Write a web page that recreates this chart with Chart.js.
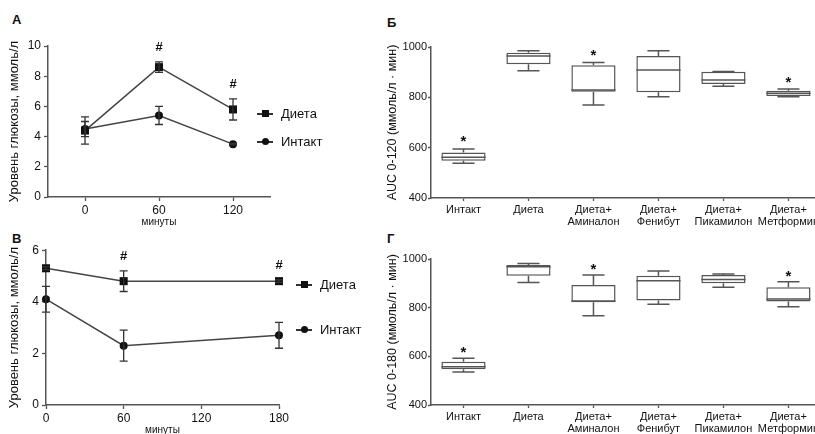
<!DOCTYPE html>
<html>
<head>
<meta charset="utf-8">
<script src="https://cdn.jsdelivr.net/npm/chart.js@4"></script>
<style>
  body { margin: 0; background: #fff; width: 815px; height: 434px; overflow: hidden; position: relative;
         font-family: "Liberation Sans", Arial, sans-serif; color: #111; }
  canvas { position: absolute; }
  .letter { position: absolute; font-weight: bold; font-size: 13px; line-height: 13px; }
  .leg { position: absolute; font-size: 13px; height: 16px; line-height: 16px; display: flex; align-items: center; white-space: nowrap; }
  .mk { display: inline-block; position: relative; width: 16px; height: 16px; margin-right: 8px; }
  .mk::before { content: ""; position: absolute; left: 0; right: 0; top: 7px; height: 1.5px; background: #333; }
  .mk::after { content: ""; position: absolute; left: 5px; top: 4px; width: 7px; height: 7px; background: #111; }
  .mk.circle::after { border-radius: 50%; }
</style>
</head>
<body>
<div class="letter" style="left:12px;top:13px">А</div>
<div class="letter" style="left:387px;top:16px">Б</div>
<div class="letter" style="left:12px;top:232px">В</div>
<div class="letter" style="left:387px;top:232px">Г</div>

<canvas id="cA" width="300" height="200" style="left:0;top:30px"></canvas>
<canvas id="cB" width="442" height="200" style="left:380px;top:30px"></canvas>
<canvas id="cV" width="300" height="194" style="left:0;top:240px"></canvas>
<canvas id="cG" width="442" height="194" style="left:380px;top:240px"></canvas>

<script>
// ---- data ----
const seriesNames = ['Диета', 'Интакт'];

// panel А: 0-120 min
const minutesA = [0, 60, 120];
const dietA = [4.4, 8.6, 5.8];
const dietAErr = [0.9, 0.35, 0.7];
const intactA = [4.5, 5.4, 3.5];
const intactAErr = [0.5, 0.6, 0.05];
const hashA = ['', '#', '#'];

// panel В: 0-180 min
const minutesV = [0, 60, 180];
const dietV = [5.3, 4.8, 4.8];
const dietVErr = [0.05, 0.4, 0.05];
const intactV = [4.1, 2.3, 2.7];
const intactVErr = [0.5, 0.6, 0.5];
const hashV = ['', '#', '#'];

// box plots
const groups = ['Интакт', 'Диета', ['Диета+', 'Аминалон'], ['Диета+', 'Фенибут'], ['Диета+', 'Пикамилон'], ['Диета+', 'Метформин']];

// Б: AUC 0-120
const minB = [538, 906, 770, 802, 844, 802];
const q1B = [548, 931, 822, 820, 853, 805];
const medB = [562, 964, 829, 909, 869, 816];
const q3B = [581, 977, 927, 964, 902, 826];
const maxB = [595, 985, 938, 985, 903, 833];
const starB = ['*', '', '*', '', '', '*'];

// Г: AUC 0-180
const minG = [536, 903, 767, 814, 884, 804];
const q1G = [547, 931, 822, 829, 900, 825];
const medG = [557, 968, 827, 911, 916, 836];
const q3G = [578, 975, 893, 931, 934, 884];
const maxG = [592, 982, 934, 951, 938, 907];
const starG = ['*', '', '*', '', '', '*'];

const FONT = '"Liberation Sans", Arial, sans-serif';
const INK = '#111';

// error bars + '#' marks for the line panels
const errorBars = {
  id: 'errorBars',
  afterDatasetsDraw(chart) {
    const { ctx, scales: { x, y } } = chart;
    ctx.save();
    ctx.strokeStyle = '#333';
    ctx.lineWidth = 1.3;
    chart.data.datasets.forEach((ds) => {
      ds.data.forEach((p, i) => {
        const e = ds.err[i];
        const px = x.getPixelForValue(p.x);
        const top = y.getPixelForValue(p.y + e);
        const bot = y.getPixelForValue(p.y - e);
        ctx.beginPath();
        ctx.moveTo(px, top); ctx.lineTo(px, bot);
        ctx.moveTo(px - 4, top); ctx.lineTo(px + 4, top);
        ctx.moveTo(px - 4, bot); ctx.lineTo(px + 4, bot);
        ctx.stroke();
        if (ds.marks && ds.marks[i]) {
          ctx.fillStyle = INK;
          ctx.font = 'bold 13px ' + FONT;
          ctx.textAlign = 'center';
          ctx.textBaseline = 'middle';
          ctx.fillText(ds.marks[i], px, top - 14);
        }
      });
    });
    ctx.restore();
  }
};

// whiskers, medians, stars for the box panels
const boxExtras = {
  id: 'boxExtras',
  afterDatasetsDraw(chart, args, opts) {
    const { ctx, scales: { y } } = chart;
    const bars = chart.getDatasetMeta(0).data;
    ctx.save();
    ctx.strokeStyle = '#555';
    ctx.lineWidth = 1.5;
    bars.forEach((bar, i) => {
      const px = bar.x;
      const hw = bar.width / 2;
      const cw = hw / 2;
      const yMin = y.getPixelForValue(opts.min[i]);
      const yMax = y.getPixelForValue(opts.max[i]);
      const yQ1 = y.getPixelForValue(opts.q1[i]);
      const yQ3 = y.getPixelForValue(opts.q3[i]);
      const yMed = y.getPixelForValue(opts.med[i]);
      ctx.beginPath();
      ctx.moveTo(px, yQ3); ctx.lineTo(px, yMax);
      ctx.moveTo(px - cw, yMax); ctx.lineTo(px + cw, yMax);
      ctx.moveTo(px, yQ1); ctx.lineTo(px, yMin);
      ctx.moveTo(px - cw, yMin); ctx.lineTo(px + cw, yMin);
      ctx.moveTo(px - hw, yMed); ctx.lineTo(px + hw, yMed);
      ctx.stroke();
      if (opts.star[i]) {
        ctx.fillStyle = '#111';
        ctx.font = 'bold 15px ' + FONT;
        ctx.textAlign = 'center';
        ctx.textBaseline = 'alphabetic';
        ctx.fillText(opts.star[i], px, yMax - opts.starGap + 8.5);
      }
    });
    ctx.restore();
  }
};

const axisBase = () => ({
  border: { color: '#555', width: 1.5 },
  grid: { drawOnChartArea: false, drawTicks: true, tickLength: 4, tickColor: '#555', tickWidth: 1.3, offset: false },
  ticks: { color: INK, font: { size: 12, family: FONT }, padding: 2, maxRotation: 0, autoSkip: false }
});

function lineDataset(label, xs, ys, errs, marks, style) {
  return {
    label: label,
    data: xs.map((v, i) => ({ x: v, y: ys[i] })),
    err: errs,
    marks: marks,
    borderColor: '#444',
    borderWidth: 1.5,
    pointStyle: style,
    pointRadius: style === 'rect' ? 5.7 : 4,
    pointBackgroundColor: '#111',
    pointBorderColor: '#111',
    pointBorderWidth: 0,
    tension: 0,
    clip: false
  };
}

function lineChart(id, xs, d, dErr, iv, iErr, marks, xMin, xMax, xTicks, yMax, pad, xH, titlePad) {
  const xAxis = axisBase();
  Object.assign(xAxis, {
    type: 'linear', min: xMin, max: xMax,
    afterBuildTicks: (s) => { s.ticks = xTicks.map((v) => ({ value: v })); },
    afterFit: (s) => { s.height = xH; },
    title: { display: true, text: 'минуты', color: INK, font: { size: 10, family: FONT }, padding: { top: 0, bottom: titlePad } }
  });
  const yAxis = axisBase();
  yAxis.ticks.padding = 3;
  Object.assign(yAxis, {
    min: 0, max: yMax,
    afterBuildTicks: (s) => { const t = []; for (let v = 0; v <= yMax; v += 2) t.push({ value: v }); s.ticks = t; },
    afterFit: (s) => { s.width = pad.yw; },
    title: { display: true, text: 'Уровень глюкозы, ммоль/л', color: INK, font: { size: 13, family: FONT }, padding: { top: 7, bottom: 0 } }
  });
  return new Chart(document.getElementById(id), {
    type: 'line',
    data: { datasets: [
      lineDataset(seriesNames[0], xs, d, dErr, marks, 'rect'),
      lineDataset(seriesNames[1], xs, iv, iErr, null, 'circle')
    ] },
    options: {
      responsive: false, animation: false,
      layout: { padding: { top: pad.top, right: pad.right, left: 0, bottom: 0 } },
      plugins: { legend: { display: false }, tooltip: { enabled: false } },
      scales: { x: xAxis, y: yAxis }
    },
    plugins: [errorBars]
  });
}

function boxChart(id, mins, q1, med, q3, maxs, stars, title, top, xH, starGap) {
  const xAxis = axisBase();
  xAxis.grid.tickLength = 3;
  xAxis.ticks.font = { size: 11, family: FONT, lineHeight: 1.1 };
  xAxis.ticks.padding = 3;
  xAxis.afterFit = (s) => { s.height = xH; };
  const yAxis = axisBase();
  yAxis.grid.tickLength = 3;
  yAxis.ticks.font = { size: 11, family: FONT };
  yAxis.ticks.padding = 1;
  yAxis.ticks.stepSize = 200;
  yAxis.ticks.callback = (v) => String(v);
  Object.assign(yAxis, {
    min: 400, max: 1000,
    afterFit: (s) => { s.width = 51; },
    title: { display: true, text: title, color: INK, font: { size: 12.5, family: FONT }, padding: { top: 5, bottom: 0 } }
  });
  return new Chart(document.getElementById(id), {
    type: 'bar',
    data: {
      labels: groups,
      datasets: [{
        data: q1.map((v, i) => [v, q3[i]]),
        backgroundColor: '#fff',
        borderColor: '#555',
        borderWidth: 1.5,
        borderSkipped: false,
        barPercentage: 0.68,
        categoryPercentage: 1
      }]
    },
    options: {
      responsive: false, animation: false,
      layout: { padding: { top: top, right: 0, left: 0, bottom: 0 } },
      plugins: {
        legend: { display: false }, tooltip: { enabled: false },
        boxExtras: { min: mins, q1: q1, med: med, q3: q3, max: maxs, star: stars, starGap: starGap }
      },
      scales: { x: xAxis, y: yAxis }
    },
    plugins: [boxExtras]
  });
}

lineChart('cA', minutesA, dietA, dietAErr, intactA, intactAErr, hashA, -30, 150, [0, 60, 120], 10,
  { top: 16, right: 30, yw: 48 }, 33, 2);
lineChart('cV', minutesV, dietV, dietVErr, intactV, intactVErr, hashV, 0, 180, [0, 60, 120, 180], 6,
  { top: 10, right: 21, yw: 46 }, 29, -2);
boxChart('cB', minB, q1B, medB, q3B, maxB, starB, 'AUC 0-120 (ммоль/л · мин)', 17, 32, 11);
boxChart('cG', minG, q1G, medG, q3G, maxG, starG, 'AUC 0-180 (ммоль/л · мин)', 19, 29, 9.5);

// HTML legends for the two line panels
function legend(x, ys, cls) {
  seriesNames.forEach((name, i) => {
    const el = document.createElement('div');
    el.className = 'leg';
    el.style.left = x + 'px';
    el.style.top = (ys[i] - 8) + 'px';
    const mk = document.createElement('span');
    mk.className = 'mk ' + cls[i];
    el.appendChild(mk);
    el.appendChild(document.createTextNode(name));
    document.body.appendChild(el);
  });
}
legend(257, [114, 142], ['square', 'circle']);
legend(296, [285, 330], ['square', 'circle']);
</script>
</body>
</html>
